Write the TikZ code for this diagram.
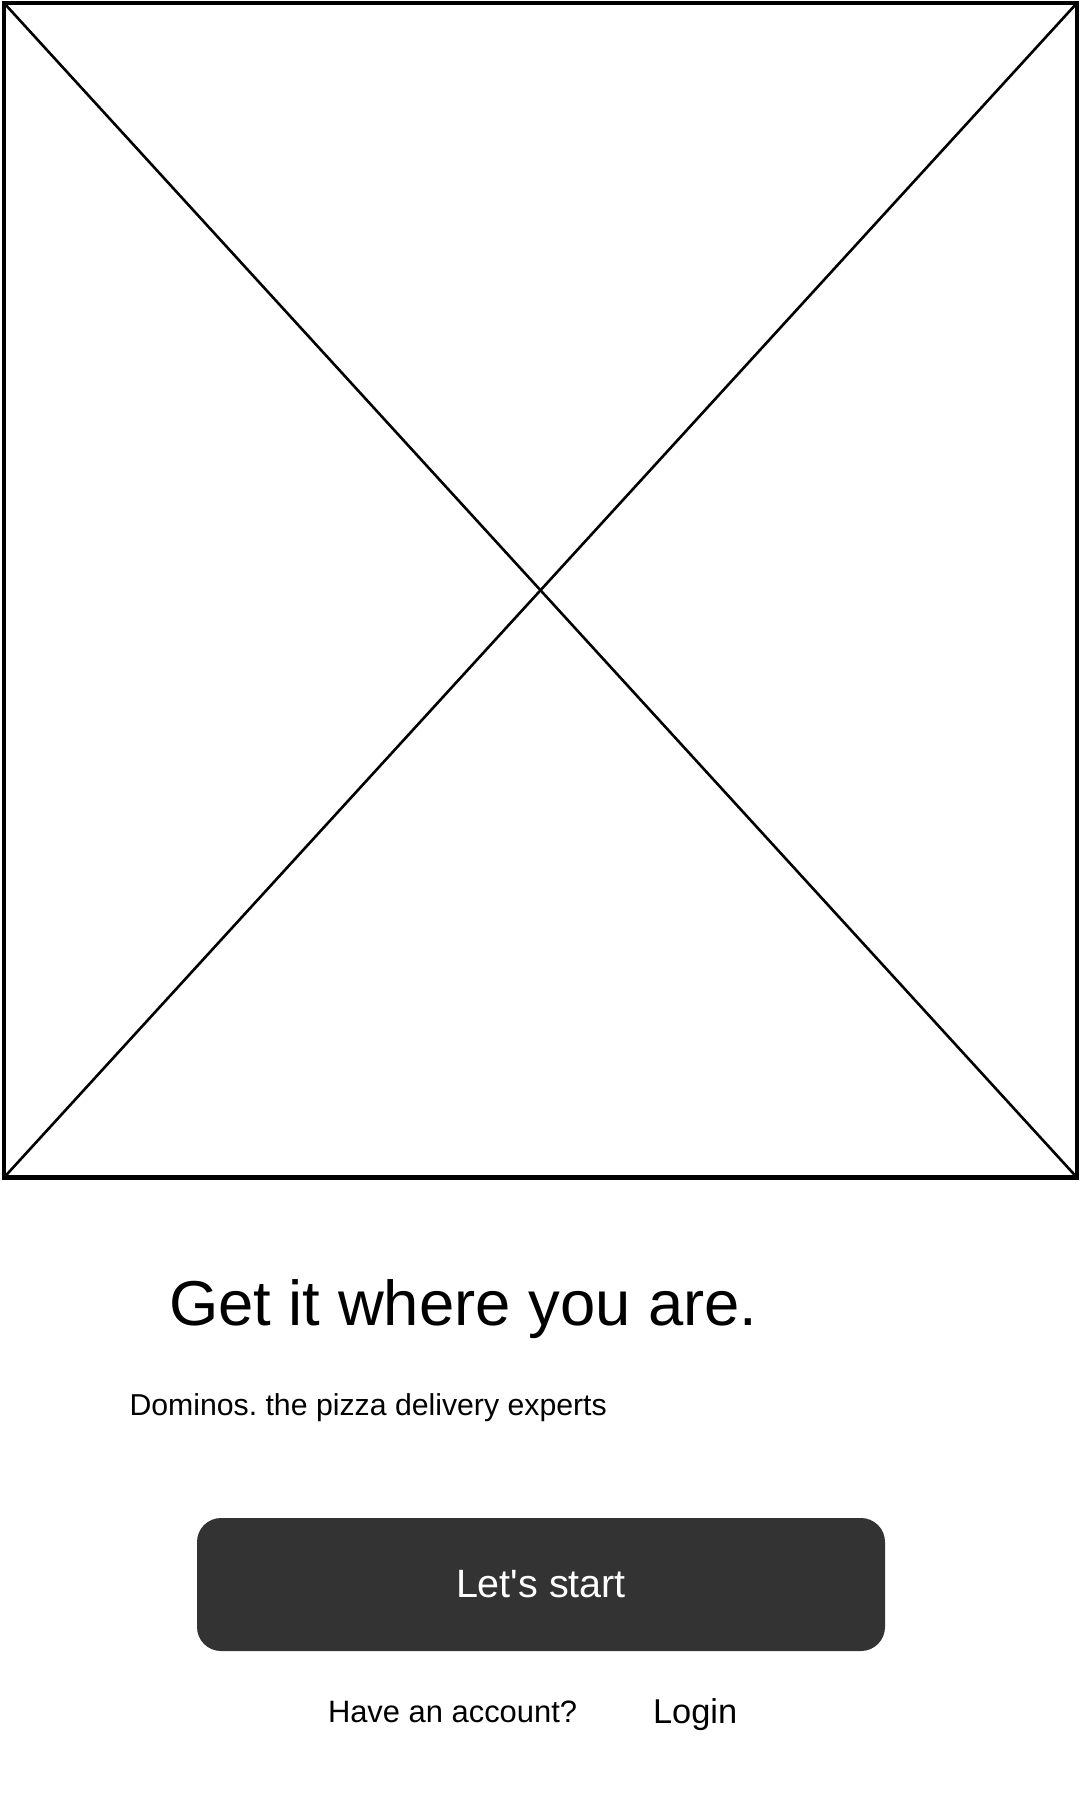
\documentclass[tikz,border=0pt]{standalone}
\usepackage{fontspec}
\setmainfont{Liberation Sans}
\definecolor{btn}{HTML}{333333}
\frenchspacing
\begin{document}
\begin{tikzpicture}[x=0.5pt,y=-0.5pt,
  frame/.style={draw=black,line width=2.25pt,minimum width=536.5pt,minimum height=587.25pt,inner sep=0pt,outer sep=0pt},
  diag/.style={draw=black,line width=1.3pt},
  btnbox/.style={fill=btn,draw=none,rounded corners=12pt,minimum width=344pt,minimum height=66.5pt,inner sep=0pt,outer sep=0pt,text=white,font=\fontsize{19.75pt}{24pt}\selectfont},
  txt/.style={inner sep=0pt,outer sep=0pt,anchor=base west,text=black}]
\useasboundingbox (0,0) rectangle (1080,1800);
\fill[white] (0,0) rectangle (1080,1800);
\node[frame] (img) at (540.5,590.25) {};
\draw[diag] (img.north west) -- (img.south east);
\draw[diag] (img.north east) -- (img.south west);
\node[txt,font=\fontsize{31.7pt}{38pt}\selectfont] (title) at (169,1325) {Get it where you are.};
\node[txt,font=\fontsize{15.12pt}{18pt}\selectfont] (sub) at (129.5,1415) {Dominos. the pizza delivery experts};
\node[btnbox] (start) at (541,1584.5) {Let\textquotesingle s start};
\node[txt,font=\fontsize{15.45pt}{18pt}\selectfont] (have) at (328,1722) {Have an account?};
\node[txt,font=\fontsize{17.2pt}{20pt}\selectfont] (login) at (653,1723) {Login};
\end{tikzpicture}
\end{document}
